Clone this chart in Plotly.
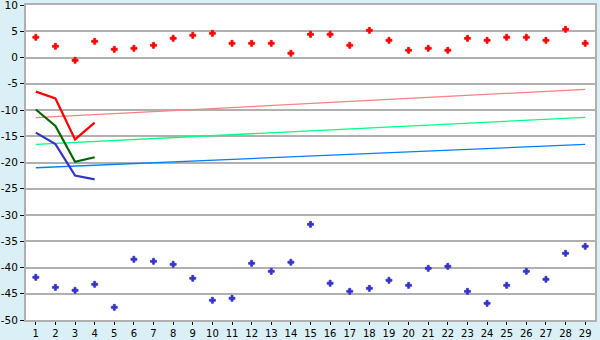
import plotly.graph_objects as go

x_cats = list(range(1, 30))

red_points = [3.85, 2.13, -0.54, 3.08, 1.56, 1.75, 2.32, 3.65, 4.22, 4.6,
              2.7, 2.7, 2.7, 0.8, 4.41, 4.41, 2.32, 5.17, 3.27, 1.37,
              1.75, 1.37, 3.65, 3.27, 3.85, 3.85, 3.27, 5.36, 2.7]
blue_points = [-41.87, -43.78, -44.35, -43.2, -47.59, -38.44, -38.82, -39.4, -42.06, -46.25,
               -45.87, -39.2, -40.73, -39.0, -31.78, -43.0, -44.54, -43.97, -42.44, -43.4,
               -40.16, -39.78, -44.54, -46.82, -43.4, -40.73, -42.25, -37.3, -35.97]

line_x = [1, 2, 3, 4]
red_line = [-6.5, -7.8, -15.6, -12.4]
green_line = [-9.9, -13.05, -19.85, -19.0]
blue_line = [-14.3, -16.5, -22.5, -23.2]

trend_x = [1, 29]
pink_trend = [-11.46, -6.06]
lightgreen_trend = [-16.54, -11.4]
lightblue_trend = [-21.0, -16.54]

y_ticks = list(range(-50, 11, 5))
y_labels = [str(v) for v in y_ticks]

fig = go.Figure()
fig.add_trace(go.Scatter(x=trend_x, y=pink_trend, mode="lines",
                         line=dict(color="#ff8080", width=1.3)))
fig.add_trace(go.Scatter(x=trend_x, y=lightgreen_trend, mode="lines",
                         line=dict(color="#00ff80", width=1.3)))
fig.add_trace(go.Scatter(x=trend_x, y=lightblue_trend, mode="lines",
                         line=dict(color="#0080ff", width=1.3)))
fig.add_trace(go.Scatter(x=line_x, y=red_line, mode="lines",
                         line=dict(color="#ff0000", width=2.2)))
fig.add_trace(go.Scatter(x=line_x, y=green_line, mode="lines",
                         line=dict(color="#006600", width=2.2)))
fig.add_trace(go.Scatter(x=line_x, y=blue_line, mode="lines",
                         line=dict(color="#3333cc", width=2.2)))
fig.add_trace(go.Scatter(x=x_cats, y=red_points, mode="markers",
                         marker=dict(symbol="cross", size=5, color="#ff0000",
                                     line=dict(color="#ff0000", width=0.8))))
fig.add_trace(go.Scatter(x=x_cats, y=blue_points, mode="markers",
                         marker=dict(symbol="cross", size=5, color="#3333cc",
                                     line=dict(color="#3333cc", width=0.8))))

fig.update_layout(
    width=600, height=340,
    margin=dict(l=26, r=5, t=5, b=20),
    paper_bgcolor="#daf0f6",
    plot_bgcolor="#ffffff",
    showlegend=False,
    font=dict(family="DejaVu Sans", size=10.5, color="#000000"),
)
fig.update_xaxes(range=[0.5, 29.5], tickvals=x_cats, ticks="outside", ticklen=3,
                 tickcolor="#000000", showgrid=False, zeroline=False,
                 showline=True, linecolor="#b0b0b0", linewidth=2, mirror=True,
                 tickfont=dict(size=10), automargin=False, ticklabeloverflow="allow")
fig.update_yaxes(range=[-50, 10], tickvals=y_ticks, ticktext=y_labels,
                 ticks="outside", ticklen=4, tickcolor="#000000",
                 showgrid=True, gridcolor="#b0b0b0", gridwidth=1.5, zeroline=False,
                 showline=True, linecolor="#b0b0b0", linewidth=2, mirror=True,
                 tickfont=dict(size=10.5), automargin=False, ticklabeloverflow="allow")

fig.write_html("out.html")
